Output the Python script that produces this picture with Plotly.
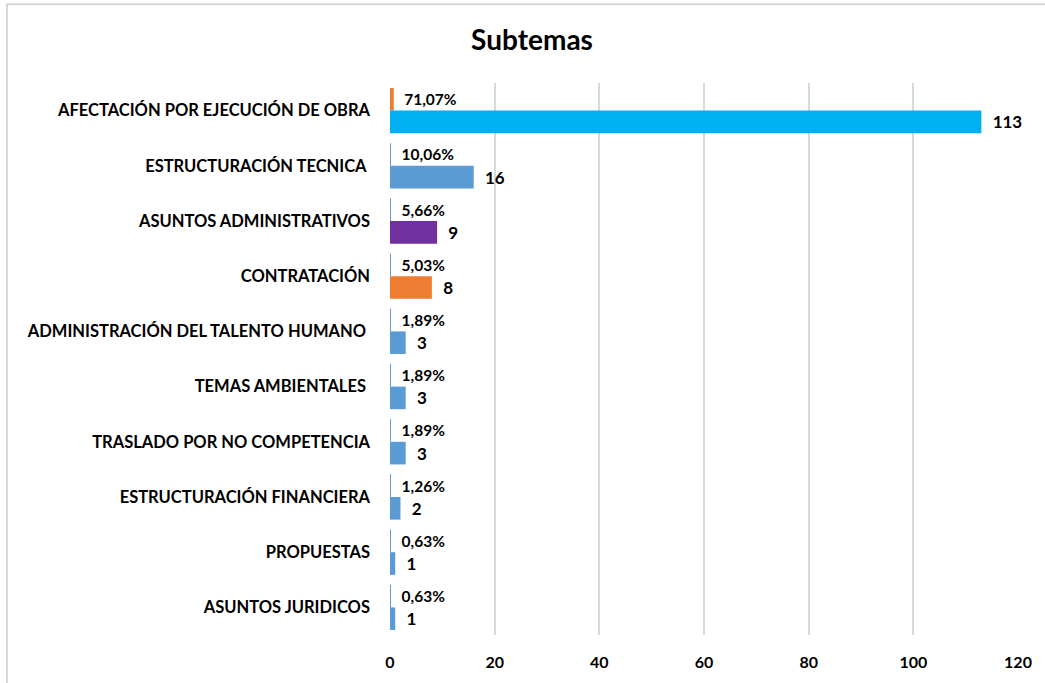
import plotly.graph_objects as go

categories = [
    "AFECTACIÓN POR EJECUCIÓN DE OBRA",
    "ESTRUCTURACIÓN TECNICA\u00a0",
    "ASUNTOS ADMINISTRATIVOS",
    "CONTRATACIÓN",
    "ADMINISTRACIÓN DEL TALENTO HUMANO\u00a0",
    "TEMAS AMBIENTALES\u00a0",
    "TRASLADO POR NO COMPETENCIA",
    "ESTRUCTURACIÓN FINANCIERA",
    "PROPUESTAS",
    "ASUNTOS JURIDICOS",
]
counts = [113, 16, 9, 8, 3, 3, 3, 2, 1, 1]
shares = [0.7107, 0.1006, 0.0566, 0.0503, 0.0189, 0.0189, 0.0189, 0.0126, 0.0063, 0.0063]
x_ticks = [0, 20, 40, 60, 80, 100, 120]

count_colors = ["#00B0F0", "#5B9BD5", "#7030A0", "#ED7D31", "#5B9BD5",
                "#5B9BD5", "#5B9BD5", "#5B9BD5", "#5B9BD5", "#5B9BD5"]
share_colors = ["#ED7D31"] + ["#5B9BD5"] * 9

FONT = "Lato"
share_text = ["\u00a0\u00a0" + f"{v*100:.2f}".replace(".", ",") + "%" for v in shares]
count_text = ["\u00a0\u00a0" + str(v) for v in counts]

fig = go.Figure()
fig.add_trace(go.Bar(
    y=categories, x=shares, orientation="h", marker=dict(color=share_colors, line=dict(width=0)),
    text=share_text, textposition="outside", constraintext="none", cliponaxis=False,
    textfont=dict(family=FONT, size=15.5, color="#000000", weight="bold"),
    hoverinfo="skip", showlegend=False,
))
fig.add_trace(go.Bar(
    y=categories, x=counts, orientation="h", marker=dict(color=count_colors, line=dict(width=0)),
    text=count_text, textposition="outside", constraintext="none", cliponaxis=False,
    textfont=dict(family=FONT, size=17, color="#000000", weight="bold"),
    hoverinfo="skip", showlegend=False,
))

fig.update_layout(
    width=1045, height=683,
    margin=dict(l=390, r=27, t=83, b=46),
    paper_bgcolor="white", plot_bgcolor="white",
    barmode="group", bargap=0.18, bargroupgap=0,
    title=dict(text="<b>Subtemas</b>", x=532/1045, xanchor="center", y=1-40/683, yanchor="middle",
               font=dict(family=FONT, size=28, color="#000000")),
    font=dict(family=FONT, color="#000000"),
    xaxis=dict(range=[0, 120], tickvals=x_ticks, showgrid=True, gridcolor="#D9D9D9", gridwidth=2,
               zeroline=False, showline=False, ticks="", ticklabelstandoff=16,
               tickfont=dict(family=FONT, size=16, color="#000000", weight="bold")),
    yaxis=dict(autorange="reversed", showgrid=False, zeroline=False, showline=False, ticks="",
               ticklabelstandoff=19,
               tickfont=dict(family=FONT, size=16.5, color="#000000", weight="bold")),
    shapes=[dict(type="rect", xref="paper", yref="paper",
                 x0=(7-390)/628, x1=(1060-390)/628, y0=(637-700)/554, y1=(637-4)/554,
                 line=dict(color="#D9D9D9", width=2), fillcolor="rgba(0,0,0,0)", layer="below")],
)

fig.write_html("out.html")
